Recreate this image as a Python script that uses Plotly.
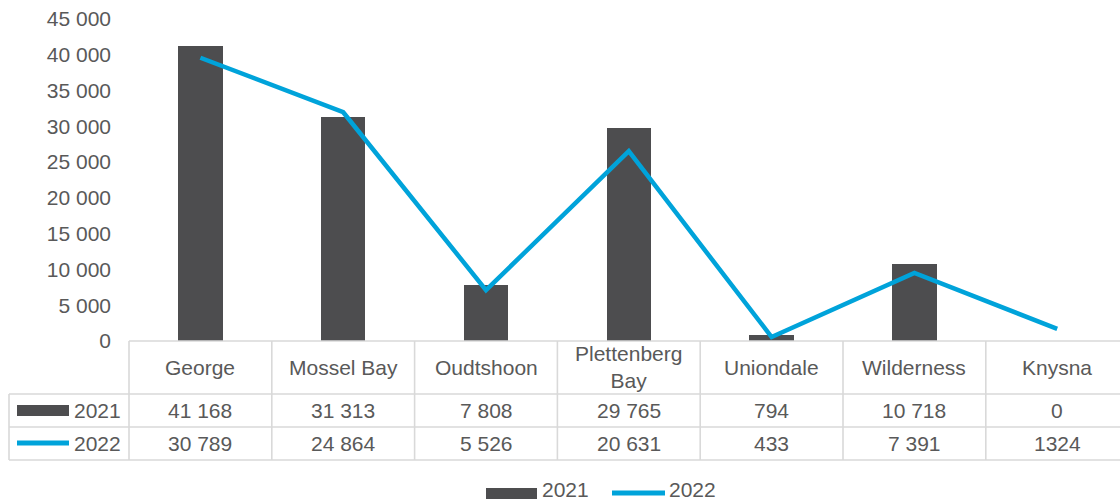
import plotly.graph_objects as go

# Data
towns = ["George", "Mossel Bay", "Oudtshoon", "Plettenberg Bay", "Uniondale", "Wilderness", "Knysna"]
header_labels = ["George", "Mossel Bay", "Oudtshoon", "Plettenberg<br>Bay", "Uniondale", "Wilderness", "Knysna"]
values_2021 = [41168, 31313, 7808, 29765, 794, 10718, 0]
values_2022 = [30789, 24864, 5526, 20631, 433, 7391, 1324]
cells_2021 = ["41 168", "31 313", "7 808", "29 765", "794", "10 718", "0"]
cells_2022 = ["30 789", "24 864", "5 526", "20 631", "433", "7 391", "1324"]
y_ticks = list(range(0, 45001, 5000))

BAR = "#4d4d4f"
LINE = "#00a3da"
TEXT = "#595959"
GRID = "#d9d9d9"
FONT = "Liberation Sans, Arial, sans-serif"
FS = 21

W, H = 1120, 502
L, R, T, B = 129, 0, 19, 161
PW, PH = W - L - R, H - T - B
BASE = H - B  # pixel row of the zero line


def px(x):
    return (x - L) / PW


def py(y):
    return (BASE - y) / PH


idx = list(range(len(towns)))

fig = go.Figure()
fig.add_trace(go.Bar(
    x=idx, y=values_2021, name="2021", width=0.31,
    marker=dict(color=BAR, line=dict(width=0)),
    showlegend=False,
))
fig.add_trace(go.Scatter(
    x=idx, y=values_2022, name="2022", mode="lines", yaxis="y2",
    line=dict(color=LINE, width=4.5), showlegend=False,
))

shapes = []
ann = []


def hline(y, x0, x1):
    shapes.append(dict(type="line", xref="paper", yref="paper",
                       x0=px(x0), x1=px(x1), y0=py(y), y1=py(y),
                       line=dict(color=GRID, width=1.6)))


def vline_paper(x, y0, y1):
    shapes.append(dict(type="line", xref="paper", yref="paper",
                       x0=px(x), x1=px(x), y0=py(y0), y1=py(y1),
                       line=dict(color=GRID, width=1.6)))


# Data table grid
hline(341, 129, 1120)
hline(394, 9, 1120)
hline(427, 9, 1120)
hline(460, 9, 1120)
vline_paper(9, 394, 460)
vline_paper(129, 341, 460)
for i in range(len(towns) - 1):
    shapes.append(dict(type="line", xref="x", yref="paper",
                       x0=i + 0.5, x1=i + 0.5, y0=py(341), y1=py(460),
                       line=dict(color=GRID, width=1.6)))

# Table contents
for i in idx:
    ann.append(dict(x=i, y=py(367), xref="x", yref="paper", text=header_labels[i],
                    showarrow=False, xanchor="center", yanchor="middle",
                    font=dict(size=FS, color=TEXT, family=FONT)))
    ann.append(dict(x=i, y=py(410.5), xref="x", yref="paper", text=cells_2021[i],
                    showarrow=False, xanchor="center", yanchor="middle",
                    font=dict(size=FS, color=TEXT, family=FONT)))
    ann.append(dict(x=i, y=py(443.5), xref="x", yref="paper", text=cells_2022[i],
                    showarrow=False, xanchor="center", yanchor="middle",
                    font=dict(size=FS, color=TEXT, family=FONT)))

# Row keys in the table
shapes.append(dict(type="rect", xref="paper", yref="paper",
                   x0=px(17), x1=px(69), y0=py(405), y1=py(416),
                   fillcolor=BAR, line=dict(width=0)))
shapes.append(dict(type="line", xref="paper", yref="paper",
                   x0=px(17), x1=px(69), y0=py(443), y1=py(443),
                   line=dict(color=LINE, width=5)))
ann.append(dict(x=px(123), y=py(410.5), xref="paper", yref="paper", text="2021",
                showarrow=False, xanchor="right", yanchor="middle",
                font=dict(size=FS, color=TEXT, family=FONT)))
ann.append(dict(x=px(123), y=py(443.5), xref="paper", yref="paper", text="2022",
                showarrow=False, xanchor="right", yanchor="middle",
                font=dict(size=FS, color=TEXT, family=FONT)))

# Legend below the table
shapes.append(dict(type="rect", xref="paper", yref="paper",
                   x0=px(486), x1=px(537), y0=py(488), y1=py(499),
                   fillcolor=BAR, line=dict(width=0)))
ann.append(dict(x=px(541), y=py(502), xref="paper", yref="paper", text="2021",
                showarrow=False, xanchor="left", yanchor="bottom", borderpad=0,
                font=dict(size=FS, color=TEXT, family=FONT)))
shapes.append(dict(type="line", xref="paper", yref="paper",
                   x0=px(612), x1=px(665), y0=py(493), y1=py(493),
                   line=dict(color=LINE, width=5)))
ann.append(dict(x=px(668), y=py(502), xref="paper", yref="paper", text="2022",
                showarrow=False, xanchor="left", yanchor="bottom", borderpad=0,
                font=dict(size=FS, color=TEXT, family=FONT)))

fig.update_layout(
    width=W, height=H,
    margin=dict(l=L, r=R, t=T, b=B, pad=0),
    paper_bgcolor="white", plot_bgcolor="white",
    separators=". ",
    font=dict(family=FONT, size=FS, color=TEXT),
    xaxis=dict(range=[-0.5, -0.5 + PW / 142.8], showticklabels=False, showgrid=False,
               zeroline=False, showline=False, ticks="", fixedrange=True),
    yaxis=dict(range=[0, 45000], tickvals=y_ticks, tickformat=",d", showgrid=False,
               zeroline=False, showline=False, ticks="", ticklabelstandoff=17,
               tickfont=dict(size=FS, color=TEXT, family=FONT)),
    yaxis2=dict(range=[0, 35000], overlaying="y", visible=False),
    shapes=shapes,
    annotations=ann,
    bargap=0,
    showlegend=False,
)

fig.write_html("out.html")
